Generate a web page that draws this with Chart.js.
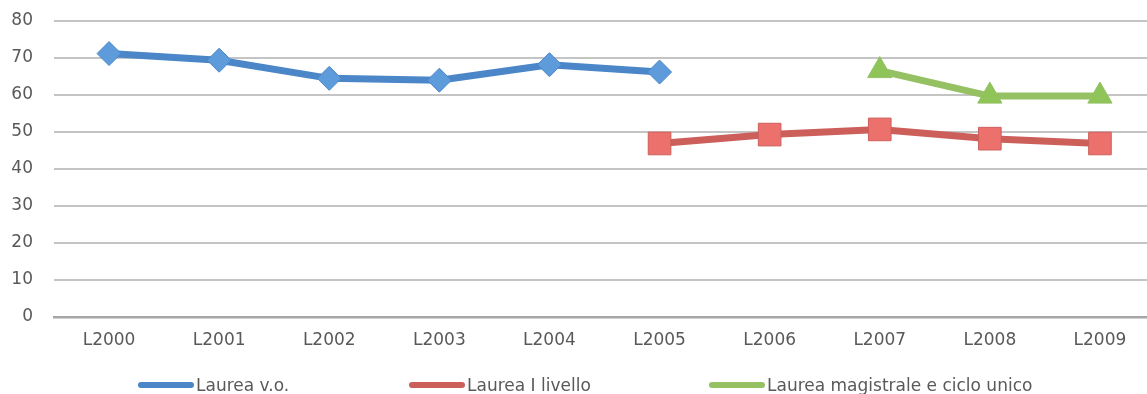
<!DOCTYPE html>
<html>
<head>
<meta charset="utf-8">
<script src="https://cdn.jsdelivr.net/npm/chart.js@4"></script>
<style>
  html, body { margin: 0; padding: 0; background: #fff; overflow: hidden; }
  #wrap { position: relative; width: 1160px; height: 394px; }
  #legend { position: absolute; top: 375px; left: 0; width: 1160px; height: 24px;
    font-family: "DejaVu Sans", sans-serif; font-size: 17px; color: #595959; }
  .item { position: absolute; top: 0; display: flex; align-items: center; white-space: nowrap; }
  .swatch { width: 56px; height: 6px; border-radius: 3px; margin-right: 2px; }
</style>
</head>
<body>
<div id="wrap">
  <canvas id="chart" width="1160" height="394"></canvas>
  <div id="legend"></div>
</div>
<script>
  const years = ['L2000', 'L2001', 'L2002', 'L2003', 'L2004', 'L2005', 'L2006', 'L2007', 'L2008', 'L2009'];
  const laureaVO = [71.2, 69.4, 64.5, 64.0, 68.2, 66.2, null, null, null, null];
  const laureaPrimo = [null, null, null, null, null, 46.9, 49.3, 50.7, 48.2, 46.9];
  const laureaMagistrale = [null, null, null, null, null, null, null, 66.6, 59.7, 59.7];
  const yTicks = [0, 10, 20, 30, 40, 50, 60, 70, 80];

  const seriesNames = ['Laurea v.o.', 'Laurea I livello', 'Laurea magistrale e ciclo unico'];
  const legendLeft = [138, 409, 709];

  const BLUE = '#4a86c8';
  const RED = '#cd5f5b';
  const GREEN = '#95c163';
  const FONT = '"DejaVu Sans", sans-serif';
  const TEXT = '#595959';

  function series(label, data, color, fill, style, radius) {
    return {
      label,
      data,
      borderColor: color,
      borderWidth: 7,
      pointStyle: style,
      pointRadius: radius,
      pointHoverRadius: radius,
      pointBackgroundColor: fill,
      pointBorderColor: color,
      pointBorderWidth: 1,
      spanGaps: false,
      tension: 0,
    };
  }

  new Chart(document.getElementById('chart'), {
    type: 'line',
    data: {
      labels: years,
      datasets: [
        series(seriesNames[0], laureaVO, BLUE, '#5e9bdb', 'rectRot', 12),
        series(seriesNames[1], laureaPrimo, RED, '#ec716c', 'rect', 16),
        series(seriesNames[2], laureaMagistrale, GREEN, '#8fc458', 'triangle', 14),
      ],
    },
    options: {
      responsive: false,
      animation: false,
      layout: { autoPadding: false, padding: { top: 21, bottom: 37, left: 0, right: 5 } },
      plugins: { legend: { display: false }, tooltip: { enabled: false } },
      scales: {
        x: {
          offset: true,
          grid: { display: false, drawTicks: false },
          border: { display: true, color: '#a6a6a6', width: 2.5 },
          ticks: { color: TEXT, font: { family: FONT, size: 17 }, padding: 13, maxRotation: 0 },
          afterFit: (s) => { s.height = 40; s.paddingLeft = 0; s.paddingRight = 0; },
        },
        y: {
          min: 0,
          max: 80,
          afterBuildTicks: (s) => { s.ticks = yTicks.map(v => ({ value: v })); },
          grid: { color: '#c4c4c4', lineWidth: 2, drawTicks: false },
          border: { display: false },
          ticks: { color: TEXT, font: { family: FONT, size: 17 }, padding: 21 },
          afterFit: (s) => { s.width = 54; s.paddingTop = 0; s.paddingBottom = 0; },
        },
      },
    },
  });

  const legend = document.getElementById('legend');
  const colors = [BLUE, RED, GREEN];
  seriesNames.forEach((name, i) => {
    const item = document.createElement('div');
    item.className = 'item';
    item.style.left = legendLeft[i] + 'px';
    const sw = document.createElement('span');
    sw.className = 'swatch';
    sw.style.background = colors[i];
    const txt = document.createElement('span');
    txt.textContent = name;
    item.appendChild(sw);
    item.appendChild(txt);
    legend.appendChild(item);
  });
</script>
</body>
</html>
